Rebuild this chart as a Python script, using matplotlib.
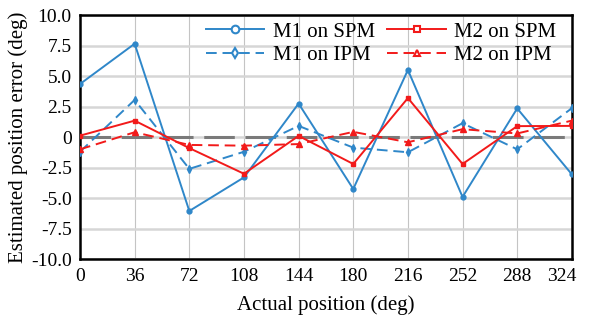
import numpy as np
import matplotlib
matplotlib.use("Agg")
import matplotlib.pyplot as plt
from matplotlib.lines import Line2D
from matplotlib.ticker import FuncFormatter
from matplotlib.transforms import ScaledTranslation

plt.rcParams['font.family'] = ['Liberation Serif', 'DejaVu Serif']

pos = [0, 36, 72, 108, 144, 180, 216, 252, 288, 324]
m1_spm = [4.35, 7.65, -6.05, -3.3, 2.75, -4.25, 5.5, -4.9, 2.35, -3.05]
m1_ipm = [-1.2, 3.05, -2.6, -1.2, 0.92, -0.86, -1.24, 1.14, -1.0, 2.37]
m2_spm = [0.12, 1.35, -0.9, -3.0, 0.1, -2.2, 3.2, -2.2, 0.9, 0.92]
m2_ipm = [-1.0, 0.4, -0.64, -0.7, -0.57, 0.43, -0.42, 0.65, 0.3, 1.35]

blue = '#2f87c9'
red = '#f21a1a'
dash = (0, (5.5, 3))

fig = plt.figure(figsize=(5.94, 3.2), dpi=100)
ax = fig.add_axes([0.1347, 0.19, 0.828, 0.763])

ax.set_xlim(0, 324)
ax.set_ylim(-10, 10)
ax.set_xticks(pos)
ax.set_yticks(np.arange(-10, 10.1, 2.5))

def yfmt(v, p):
    if abs(v) < 1e-9:
        return '0'
    return '%.1f' % v

ax.yaxis.set_major_formatter(FuncFormatter(yfmt))

ax.grid(axis='y', color='#d6d6d6', lw=1.8, zorder=0)
ax.grid(axis='x', color='#c4c4c4', lw=0.8, zorder=0)
ax.axhline(0, color='#7a7a7a', lw=2.2, ls=(0, (10, 3.5)), zorder=2)

ax.plot(pos, m1_spm, '-', color=blue, lw=1.4, marker='o', ms=3.5, zorder=3)
ax.plot(pos, m1_ipm, ls=dash, color=blue, lw=1.4, marker='d', ms=4, zorder=3)
ax.plot(pos, m2_spm, '-', color=red, lw=1.4, marker='s', ms=3.5, zorder=3)
ax.plot(pos, m2_ipm, ls=dash, color=red, lw=1.4, marker='^', ms=4, zorder=3)

for s in ax.spines.values():
    s.set_linewidth(1.8)
    s.set_color('black')
ax.tick_params(length=0, labelsize=14, pad=6)

# last x tick label sits a bit to the left in the original
last = ax.get_xticklabels()[-1]
last.set_transform(last.get_transform() + ScaledTranslation(-0.1, 0, fig.dpi_scale_trans))

ax.set_xlabel('Actual position (deg)', fontsize=15, labelpad=8)
ax.set_ylabel('Estimated position error (deg)', fontsize=15, labelpad=2)

handles = [
    Line2D([], [], color=blue, ls='-', lw=1.4, marker='o', ms=5.5, mfc='white', mew=1.5),
    Line2D([], [], color=blue, ls=dash, lw=1.4, marker='d', ms=5.5, mfc='white', mew=1.5),
    Line2D([], [], color=red, ls='-', lw=1.4, marker='s', ms=5, mfc='white', mew=1.5),
    Line2D([], [], color=red, ls=dash, lw=1.4, marker='^', ms=5, mfc='white', mew=1.5),
]
labels = ['M1 on SPM', 'M1 on IPM', 'M2 on SPM', 'M2 on IPM']
ax.legend(handles, labels, ncol=2, loc='upper right', frameon=False,
          fontsize=15, handlelength=2.8, columnspacing=0.6, handletextpad=0.4,
          labelspacing=0.18, borderaxespad=0.0, bbox_to_anchor=(0.985, 1.005))

fig.savefig('out.png', dpi=100)
